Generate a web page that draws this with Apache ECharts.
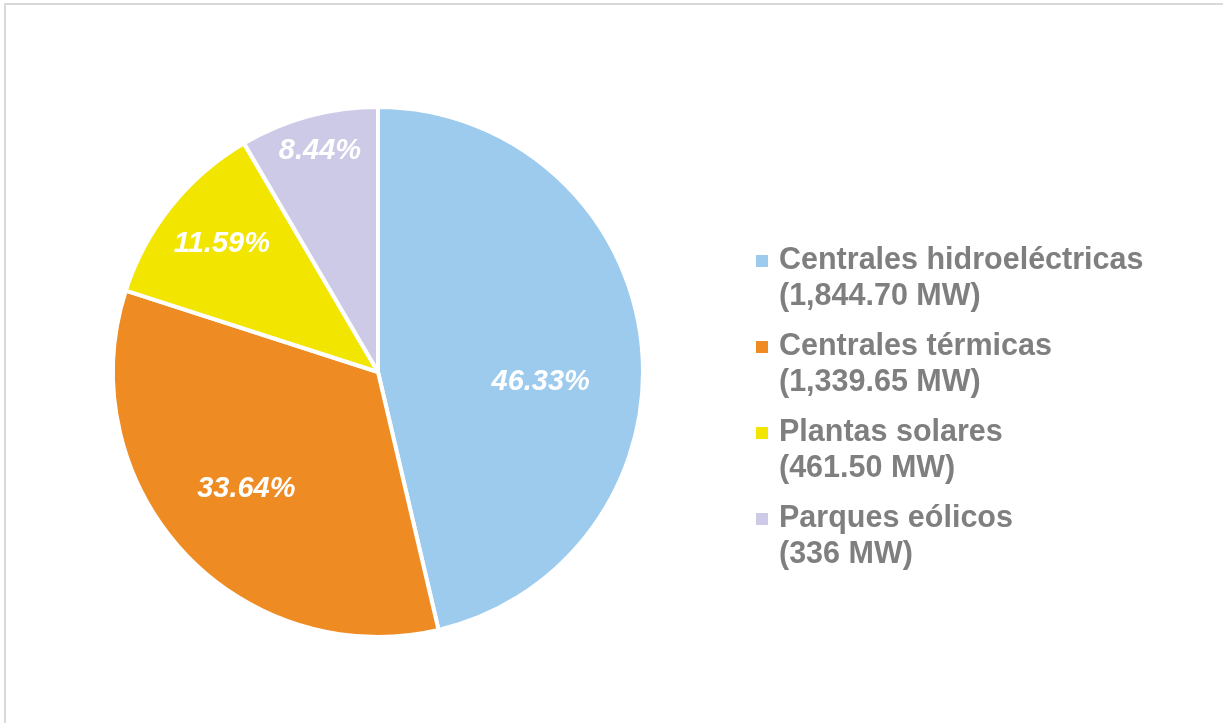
<!DOCTYPE html>
<html>
<head>
<meta charset="utf-8">
<script src="https://cdn.jsdelivr.net/npm/echarts@6/dist/echarts.min.js"></script>
<style>
  html, body { margin: 0; padding: 0; background: #fff; }
  #frame { position: absolute; left: 4px; top: 3px; width: 1230px; height: 730px;
           border-top: 2px solid #D9D9D9; border-left: 2px solid #D9D9D9; box-sizing: border-box; }
  #chart { position: absolute; left: 0; top: 0; width: 1223px; height: 723px; }
</style>
</head>
<body>
<div id="frame"></div>
<div id="chart"></div>
<script>
const categories = ['Centrales hidroeléctricas', 'Centrales térmicas', 'Plantas solares', 'Parques eólicos'];
const capacityMW = [1844.70, 1339.65, 461.50, 336];
const capacityLabels = ['1,844.70', '1,339.65', '461.50', '336'];
const colors = ['#9DCBEE', '#EE8B22', '#F2E500', '#CDCAE8'];

const CENTER = [378, 372];
const RADIUS = 265;
const START_ANGLE = 90;
const labelRadiusFrac = [0.615, 0.665, 0.762, 0.864];
const labelAngleShift = [-10, -1, -0.6, -0.5];

// mid angle of each slice (degrees, counter-clockwise from +x), derived from the data
const total = capacityMW.reduce(function (a, b) { return a + b; }, 0);
const midAngles = [];
(function () {
  let cum = 0;
  capacityMW.forEach(function (v) {
    midAngles.push(START_ANGLE - (cum + v / 2) / total * 360);
    cum += v;
  });
})();

const chart = echarts.init(document.getElementById('chart'));
chart.setOption({
  animation: false,
  color: colors,
  legend: {
    orient: 'vertical',
    left: 756,
    top: 207,
    padding: 0,
    itemWidth: 12,
    itemHeight: 12,
    itemGap: -22,
    icon: 'rect',
    itemStyle: { borderWidth: 0 },
    data: categories,
    formatter: function (name) {
      const i = categories.indexOf(name);
      return ' \n' + name + '\n(' + capacityLabels[i] + ' MW)';
    },
    textStyle: {
      color: '#7F7F7F',
      fontFamily: 'Liberation Sans, Arial, sans-serif',
      fontWeight: 'bold',
      fontSize: 30.5,
      lineHeight: 36,
      padding: [0, 0, 0, 6]
    }
  },
  series: [{
    type: 'pie',
    center: CENTER,
    radius: RADIUS,
    startAngle: START_ANGLE,
    clockwise: true,
    avoidLabelOverlap: false,
    itemStyle: { borderColor: '#ffffff', borderWidth: 4 },
    label: {
      show: true,
      position: 'inside',
      formatter: function (p) { return p.percent.toFixed(2) + '%'; },
      color: '#ffffff',
      fontFamily: 'Liberation Sans, Arial, sans-serif',
      fontWeight: 'bold',
      fontStyle: 'italic',
      fontSize: 29
    },
    labelLine: { show: false },
    labelLayout: function (params) {
      const i = params.dataIndex;
      const a = (midAngles[i] + labelAngleShift[i]) * Math.PI / 180;
      const f = labelRadiusFrac[i] * RADIUS;
      return { x: CENTER[0] + Math.cos(a) * f, y: CENTER[1] - Math.sin(a) * f, align: 'center', verticalAlign: 'middle' };
    },
    data: categories.map(function (c, i) { return { name: c, value: capacityMW[i] }; })
  }]
});
</script>
</body>
</html>
